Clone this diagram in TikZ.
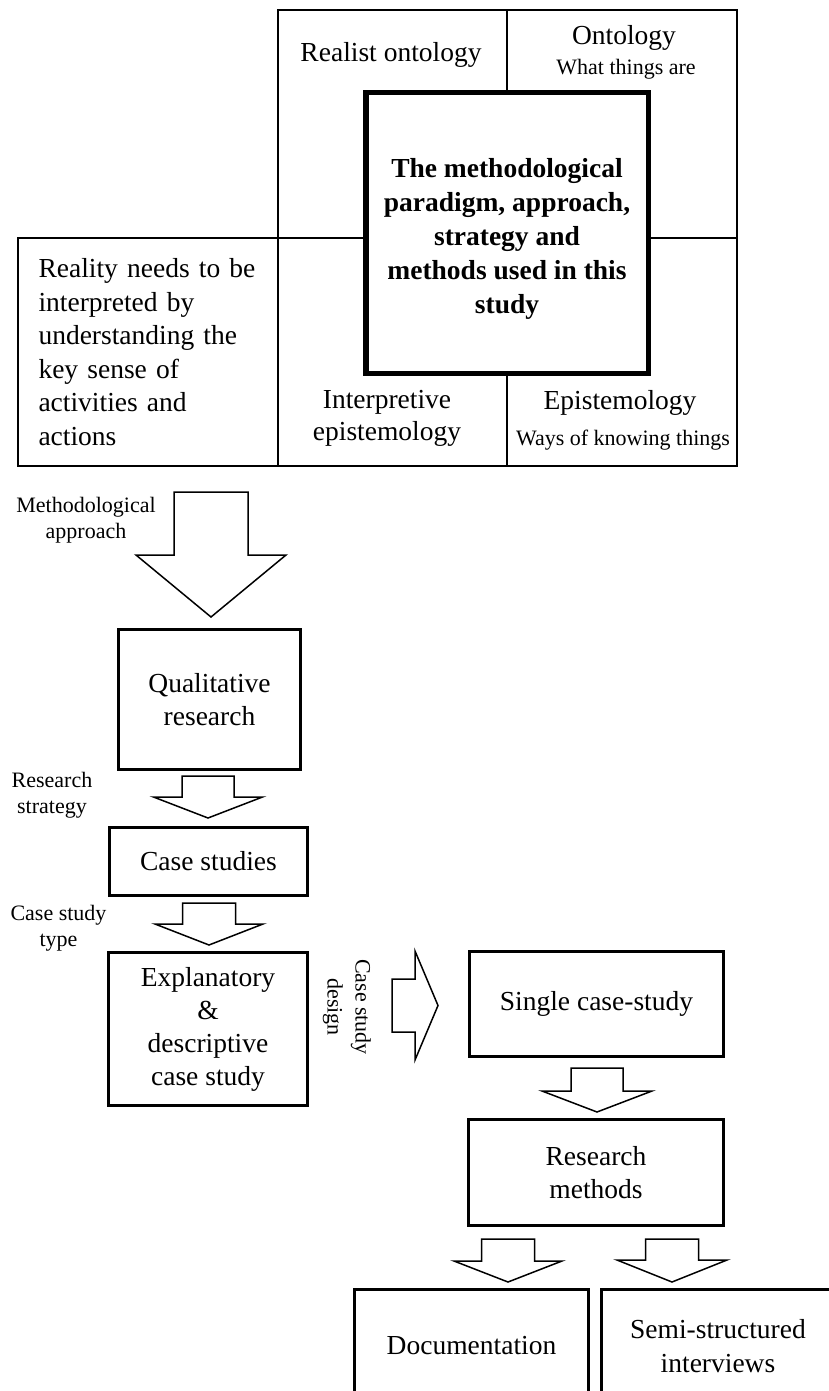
\documentclass[tikz,border=0pt]{standalone}
\usepackage{fontspec}
\setmainfont{Liberation Serif}
\tikzset{
  every node/.style={inner sep=0pt, outer sep=0pt},
  bigtext/.style={font=\fontsize{27.5}{33}\selectfont, align=center},
  smalltext/.style={font=\fontsize{22}{26}\selectfont, align=center},
  cell/.style={draw, line width=1.3pt},
  corebox/.style={draw, line width=5.5pt, fill=white},
  coretext/.style={font=\fontsize{27.5}{33.8}\selectfont\bfseries, align=center},
  flowbox/.style={draw, line width=2.8pt, bigtext},
  blockarrow/.style={draw, line width=1.5pt, fill=white, line join=miter},
  % hollow block arrow pointing down: shaft half width / head half width / head base / tip
  pics/downarrow/.style args={#1/#2/#3/#4}{code={
    \draw[blockarrow] (-#1,0) -- (#1,0) -- (#1,#3) -- (#2,#3) -- (0,#4)
      -- (-#2,#3) -- (-#1,#3) -- cycle;}},
  % hollow block arrow pointing right
  pics/rightarrow/.style args={#1/#2/#3/#4}{code={
    \draw[blockarrow] (0,-#1) -- (#3,-#1) -- (#3,-#2) -- (#4,0)
      -- (#3,#2) -- (#3,#1) -- (0,#1) -- cycle;}},
}
\begin{document}
\begin{tikzpicture}[x=1pt,y=-1pt]
\useasboundingbox (0,0) rectangle (829,1391);
\fill[white] (0,0) rectangle (829,1391);
\clip (0,0) rectangle (829,1391);

% ---- paradigm grid ----
\node[cell, minimum width=229pt, minimum height=228pt] (ul) at (392.5,124) {};
\node[cell, minimum width=230pt, minimum height=228pt] (ur) at (622,124) {};
\node[cell, minimum width=229pt, minimum height=228pt] (ll) at (392.5,352) {};
\node[cell, minimum width=230pt, minimum height=228pt] (lr) at (622,352) {};
\node[cell, bigtext, align=left, text width=219pt, minimum width=260pt,
      minimum height=228pt, font=\fontsize{27.5}{33.6}\selectfont] (reality) at (148,352)
  {Reality needs to be\\interpreted by\\understanding the\\key sense of\\activities and\\actions};

\node[corebox, minimum width=282.5pt, minimum height=280.5pt] (core) at (507,233) {};
\node[coretext] (coretxt) at (507,239)
  {The methodological\\paradigm, approach,\\strategy and\\methods used in this\\study};

\node[bigtext, anchor=base] (realist) at (391,62) {Realist ontology};
\node[bigtext, anchor=base] (onto) at (624,45) {Ontology};
\node[smalltext, anchor=base] (ontosub) at (626,75) {What things are};
\node[bigtext, font=\fontsize{27.5}{32}\selectfont] (interp) at (387,418.5) {Interpretive\\epistemology};
\node[bigtext, anchor=base] (episte) at (620,409) {Epistemology};
\node[smalltext, anchor=base] (epistesub) at (623,445) {Ways of knowing things};

% ---- research design flow ----
\node[flowbox, minimum width=182.2pt, minimum height=140.2pt] (qual) at (209.5,699.5) {Qualitative\\research};
\node[flowbox, minimum width=198.2pt, minimum height=68.2pt] (cases) at (208.5,861.5) {Case studies};
\node[flowbox, minimum width=199.2pt, minimum height=153.2pt] (expl) at (208,1029)
  {Explanatory\\\&\\descriptive\\case study};
\node[flowbox, minimum width=254.2pt, minimum height=105.2pt] (single) at (596.5,1004) {Single case-study};
\node[flowbox, minimum width=255.2pt, minimum height=106.2pt] (methods) at (596,1172.5) {Research\\methods};
\node[flowbox, minimum width=234.2pt, minimum height=113.2pt] (doc) at (471.5,1346) {Documentation};
\node[flowbox, minimum width=233.2pt, minimum height=113.2pt,
      font=\fontsize{27.5}{34}\selectfont] (semi) at (718,1346) {Semi-structured\\interviews};

% ---- block arrows ----
\pic at (211,492) {downarrow={37/75/63/125}};
\pic at (208,776) {downarrow={26/54.5/21/42}};
\pic at (209,903) {downarrow={26.5/54/21/42}};
\pic at (392,1005.5) {rightarrow={26.5/54.5/23/46}};
\pic at (597,1068) {downarrow={26/55/23/44}};
\pic at (508,1239) {downarrow={26.5/54/22/43}};
\pic at (672,1239) {downarrow={26.5/55/21/43}};

% ---- arrow captions ----
\node[smalltext] (capapproach) at (86,520) {Methodological\\approach};
\node[smalltext] (capstrategy) at (52,795.5) {Research\\strategy};
\node[smalltext] (captype) at (58.5,928.5) {Case study\\type};
\node[smalltext, font=\fontsize{22}{28}\selectfont, rotate=-90] (capdesign) at (347,1007) {Case study\\design};
\end{tikzpicture}
\end{document}
